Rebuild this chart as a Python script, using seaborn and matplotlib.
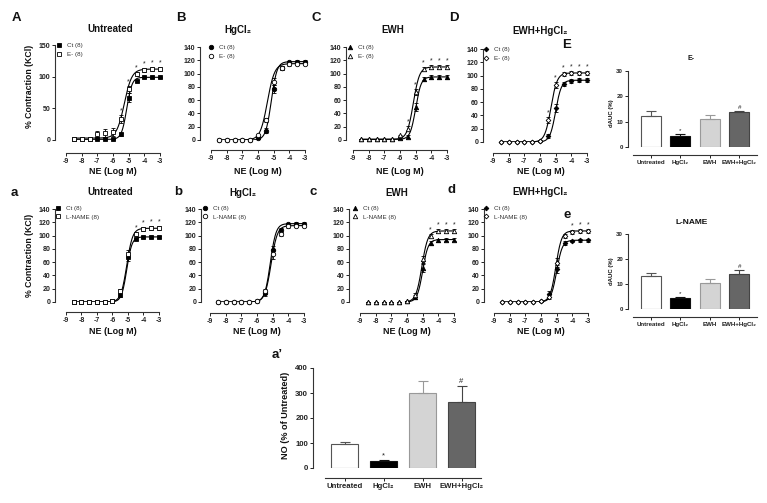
import numpy as np
import matplotlib.pyplot as plt
import seaborn as sns
from matplotlib.lines import Line2D

sns.set_style("ticks")
plt.rcParams['font.family'] = ['Liberation Sans', 'DejaVu Sans']
plt.rcParams['axes.unicode_minus'] = False

# ---- concentration-response data (% contraction to KCl) ----
log_ne = [-8.5, -8, -7.5, -7, -6.5, -6, -5.5, -5, -4.5, -4, -3.5, -3]

A_ct = [1, 1, 1, 1, 1, 1, 9, 67, 93, 99, 99, 99]
A_ct_err = [0, 0, 0, 0, 0, 0, 2, 7, 2, 1, 1, 1]
A_em = [1, 1, 1, 9, 11, 13, 33, 80, 104, 110, 112, 112]
A_em_err = [0, 0, 0, 5, 6, 6, 6, 5, 3, 3, 3, 3]
B_ct = [0, 0, 0, 0, 0, 3, 14, 77, 109, 117, 118, 118]
B_ct_err = [0, 0, 0, 0, 0, 1, 4, 6, 3, 2, 2, 2]
B_em = [0, 0, 0, 0, 0, 7, 30, 88, 108, 114, 115, 115]
B_em_err = [0, 0, 0, 0, 0, 1, 3, 5, 3, 2, 2, 2]
C_ct = [1, 1, 1, 1, 1, 3, 5, 50, 92, 95, 95, 95]
C_ct_err = [0, 0, 0, 0, 0, 1, 2, 6, 3, 3, 3, 3]
C_em = [1, 1, 1, 1, 1, 7, 17, 72, 107, 110, 110, 110]
C_em_err = [0, 0, 0, 0, 0, 1, 4, 5, 3, 3, 3, 3]
D_ct = [0, 0, 0, 0, 0, 1, 9, 51, 88, 92, 93, 93]
D_ct_err = [0, 0, 0, 0, 0, 1, 3, 6, 3, 3, 3, 3]
D_em = [0, 0, 0, 0, 0, 2, 33, 86, 103, 104, 104, 104]
D_em_err = [0, 0, 0, 0, 0, 1, 4, 4, 3, 3, 3, 3]

a_ct = [0, 0, 0, 0, 0, 1, 11, 68, 95, 98, 98, 98]
a_ct_err = [0, 0, 0, 0, 0, 1, 3, 6, 2, 1, 1, 1]
a_ln = [0, 0, 0, 0, 0, 2, 17, 73, 103, 110, 111, 111]
a_ln_err = [0, 0, 0, 0, 0, 1, 3, 5, 3, 3, 3, 3]
b_ct = [0, 0, 0, 0, 0, 1, 13, 78, 109, 117, 118, 118]
b_ct_err = [0, 0, 0, 0, 0, 1, 4, 6, 3, 2, 2, 2]
b_ln = [0, 0, 0, 0, 0, 1, 16, 72, 102, 114, 115, 115]
b_ln_err = [0, 0, 0, 0, 0, 1, 4, 7, 3, 2, 2, 2]
c_ct = [0, 0, 0, 0, 0, 1, 7, 51, 89, 93, 94, 94]
c_ct_err = [0, 0, 0, 0, 0, 1, 3, 6, 3, 2, 2, 2]
c_ln = [0, 0, 0, 0, 0, 1, 11, 64, 99, 107, 107, 107]
c_ln_err = [0, 0, 0, 0, 0, 1, 3, 6, 3, 3, 3, 3]
d_ct = [0, 0, 0, 0, 0, 1, 12, 50, 89, 92, 93, 93]
d_ct_err = [0, 0, 0, 0, 0, 1, 4, 6, 3, 2, 2, 2]
d_ln = [0, 0, 0, 0, 0, 1, 7, 59, 99, 106, 107, 107]
d_ln_err = [0, 0, 0, 0, 0, 1, 3, 7, 3, 3, 3, 3]

# fitted sigmoid parameters: bottom, top, logEC50, Hill slope
A_ct_fit = [1, 99, -5.12, 2.6]
A_em_fit = [3, 112, -5.28, 1.8]
B_ct_fit = [0, 118, -5.15, 2.4]
B_em_fit = [0, 115, -5.40, 1.9]
C_ct_fit = [1, 95, -5.00, 2.5]
C_em_fit = [1, 110, -5.15, 2.2]
D_ct_fit = [0, 93, -5.00, 2.4]
D_em_fit = [0, 104, -5.30, 2.2]
a_ct_fit = [0, 98, -5.08, 2.6]
a_ln_fit = [0, 111, -5.08, 2.3]
b_ct_fit = [0, 118, -5.15, 2.4]
b_ln_fit = [0, 115, -5.10, 2.2]
c_ct_fit = [0, 94, -5.00, 2.5]
c_ln_fit = [0, 107, -5.05, 2.3]
d_ct_fit = [0, 93, -5.00, 2.4]
d_ln_fit = [0, 107, -5.05, 2.4]

# ---- bar data ----
groups = ['Untreated', 'HgCl₂', 'EWH', 'EWH+HgCl₂']
E_dauc = [12.2, 4.5, 11.2, 13.7]
E_err = [1.9, 0.6, 1.6, 0.7]
e_dauc = [13.2, 4.4, 10.3, 14.0]
e_err = [1.1, 0.6, 1.9, 1.6]
no_pct = [98, 27, 300, 265]
no_err = [5, 5, 48, 62]
bar_marks = ['', '*', '', '#']

bar_fill = {'Untreated': 'white', 'HgCl₂': 'black', 'EWH': '#d4d4d4', 'EWH+HgCl₂': '#666666'}
bar_edge = ['#555555', '#111111', '#999999', '#444444']

W, H = 767, 503
fig = plt.figure(figsize=(W / 100, H / 100), dpi=100)


def add_ax(x0, x1, ybot, ytop):
    ax = fig.add_axes([x0 / W, 1 - ybot / H, (x1 - x0) / W, (ybot - ytop) / H])
    ax.set_facecolor('none')
    return ax


def ftext(x, y, s, size, weight='bold', rot=0, color='#111111'):
    fig.text(x / W, 1 - y / H, s, ha='center', va='center', fontsize=size,
             fontweight=weight, rotation=rot, color=color)


def style(ax, left_off, bottom_off, ytop, lsize=5):
    sns.despine(ax=ax)
    ax.spines['left'].set_position(('outward', left_off * 0.72))
    ax.spines['bottom'].set_position(('outward', bottom_off * 0.72))
    ax.spines['left'].set_bounds(0, ytop)
    for s in ('left', 'bottom'):
        ax.spines[s].set_linewidth(0.8)
        ax.spines[s].set_color('#333333')
    ax.tick_params(length=2.5, width=0.7, pad=1, labelsize=lsize, colors='#222222')
    for t in ax.get_xticklabels() + ax.get_yticklabels():
        t.set_fontweight('bold')


def draw_series(ax, y, err, fit, marker, filled, ms, xstart):
    b, t, ec, h = fit
    xs = np.linspace(xstart, -3, 200)
    ys = b + (t - b) / (1 + 10 ** ((ec - xs) * h))
    sns.lineplot(x=xs, y=ys, ax=ax, color='black', lw=0.8)
    ax.errorbar(log_ne, y, yerr=err, fmt=marker, ms=ms,
                mfc='black' if filled else 'white', mec='black', mew=0.6,
                ecolor='black', elinewidth=0.6, capsize=1.2, capthick=0.6,
                clip_on=False, zorder=3)


curve_panels = [
    # rect px, spine offsets, ymax, series, marker, ms, stars, legend anchor, labels
    dict(rect=(66, 160, 140, 45), off=(11, 13), ymax=150, yt=[0, 50, 100, 150],
         ct=(A_ct, A_ct_err, A_ct_fit), tr=(A_em, A_em_err, A_em_fit),
         mk='s', ms=3.4, stars=[6, 7, 8, 9, 10, 11], leg=(56, 42.5), lab='E- (8)', xs=-8.5),
    dict(rect=(211, 305, 140, 47), off=(11, 10), ymax=140, yt=list(range(0, 141, 20)),
         ct=(B_ct, B_ct_err, B_ct_fit), tr=(B_em, B_em_err, B_em_fit),
         mk='o', ms=3.2, stars=[], leg=(208, 44.5), lab='E- (8)', xs=-8.5),
    dict(rect=(353, 447, 140, 47), off=(7, 10), ymax=140, yt=list(range(0, 141, 20)),
         ct=(C_ct, C_ct_err, C_ct_fit), tr=(C_em, C_em_err, C_em_fit),
         mk='^', ms=3.2, stars=[6, 7, 8, 9, 10, 11], leg=(347, 44.5), lab='E- (8)', xs=-8.5),
    dict(rect=(493, 587, 142, 49), off=(10, 11), ymax=140, yt=list(range(0, 141, 20)),
         ct=(D_ct, D_ct_err, D_ct_fit), tr=(D_em, D_em_err, D_em_fit),
         mk='D', ms=2.4, stars=[6, 7, 8, 9, 10, 11], leg=(483, 46.5), lab='E- (8)', xs=-8.5),
    dict(rect=(66, 159, 302, 209), off=(11, 10), ymax=140, yt=list(range(0, 141, 20)),
         ct=(a_ct, a_ct_err, a_ct_fit), tr=(a_ln, a_ln_err, a_ln_fit),
         mk='s', ms=3.4, stars=[8, 9, 10, 11], leg=(55, 205.5), lab='L-NAME (8)', xs=-8.5),
    dict(rect=(210, 304, 302, 209), off=(9, 11), ymax=140, yt=list(range(0, 141, 20)),
         ct=(b_ct, b_ct_err, b_ct_fit), tr=(b_ln, b_ln_err, b_ln_fit),
         mk='o', ms=3.2, stars=[], leg=(202, 205.5), lab='L-NAME (8)', xs=-8.5),
    dict(rect=(360, 454, 302, 209), off=(11, 11), ymax=140, yt=list(range(0, 141, 20)),
         ct=(c_ct, c_ct_err, c_ct_fit), tr=(c_ln, c_ln_err, c_ln_fit),
         mk='^', ms=3.2, stars=[8, 9, 10, 11], leg=(352, 205.5), lab='L-NAME (8)', xs=-6.1),
    dict(rect=(494, 588, 302, 209), off=(10, 11), ymax=140, yt=list(range(0, 141, 20)),
         ct=(d_ct, d_ct_err, d_ct_fit), tr=(d_ln, d_ln_err, d_ln_fit),
         mk='D', ms=2.4, stars=[9, 10, 11], leg=(483, 205.5), lab='L-NAME (8)', xs=-8.5),
]

for p in curve_panels:
    x0, x1, yb, yt = p['rect']
    ax = add_ax(x0, x1, yb, yt)
    draw_series(ax, *p['ct'], p['mk'], True, p['ms'], p['xs'])
    draw_series(ax, *p['tr'], p['mk'], False, p['ms'], p['xs'])
    ty, terr, _ = p['tr']
    for i in p['stars']:
        ax.text(log_ne[i], ty[i] + terr[i] + 1, '*', ha='center', va='bottom',
                fontsize=5, color='#222222')
    ax.set_xlim(-9, -3)
    ax.set_ylim(0, p['ymax'])
    ax.set_xticks(range(-9, -2))
    ax.set_yticks(p['yt'])
    ax.set_xlabel('')
    ax.set_ylabel('')
    style(ax, p['off'][0], p['off'][1], p['ymax'])
    handles = [Line2D([], [], ls='none', marker=p['mk'], ms=p['ms'], mfc='black', mec='black', mew=0.6),
               Line2D([], [], ls='none', marker=p['mk'], ms=p['ms'], mfc='white', mec='black', mew=0.6)]
    fig.legend(handles, ['Ct (8)', p['lab']], loc='upper left',
               bbox_to_anchor=(p['leg'][0] / W, 1 - p['leg'][1] / H),
               frameon=False, fontsize=4.5, handlelength=1.0, handletextpad=0.8,
               labelspacing=0.55, borderpad=0, borderaxespad=0, labelcolor='#333333')


def bar_panel(rect, off, vals, errs, ymax, yticks, width, lsize, tsize):
    x0, x1, yb, yt = rect
    ax = add_ax(x0, x1, yb, yt)
    sns.barplot(x=groups, y=vals, hue=groups, palette=bar_fill, legend=False,
                width=width, saturation=1, errorbar=None, linewidth=0.8, ax=ax)
    for patch, ec in zip(ax.patches, bar_edge):
        patch.set_edgecolor(ec)
    for i in range(4):
        ax.errorbar(i, vals[i], yerr=[[0], [errs[i]]], fmt='none', ecolor=bar_edge[i],
                    elinewidth=0.8, capsize=width * 5, capthick=0.8, zorder=1)
        if bar_marks[i]:
            ax.text(i, vals[i] + errs[i] + ymax * 0.01, bar_marks[i], ha='center',
                    va='bottom', fontsize=tsize, color='#222222')
    ax.set_xlim(*((-0.6, 3.6) if ymax == 30 else (-0.5, 3.5)))
    ax.set_ylim(0, ymax)
    ax.set_yticks(yticks)
    ax.set_xticks(range(4))
    ax.set_xticklabels(groups)
    ax.set_xlabel('')
    ax.set_ylabel('')
    style(ax, off[0], off[1], ymax, lsize)
    return ax


bar_panel((633, 757, 147, 71), (5, 8), E_dauc, E_err, 30, [0, 10, 20, 30], 0.68, 4.4, 4.5)
bar_panel((633, 757, 309, 234), (5, 8), e_dauc, e_err, 30, [0, 10, 20, 30], 0.68, 4.4, 4.5)
bar_panel((325, 481, 468, 368), (12, 10), no_pct, no_err, 400, [0, 100, 200, 300, 400], 0.67, 5.6, 5.5)

# ---- panel letters ----
for s, x, y in [('A', 16, 18), ('B', 181, 18), ('C', 316, 18), ('D', 454, 18), ('E', 567, 45),
                ('a', 14, 193), ('b', 178, 192), ('c', 313, 192), ('d', 452, 190), ('e', 567, 215),
                ("a’", 277, 355)]:
    ftext(x, y, s, 9.5)

# ---- titles ----
for s, x, y in [('Untreated', 110, 29), ('HgCl₂', 238, 30), ('EWH', 393, 30), ('EWH+HgCl₂', 540, 31),
                ('Untreated', 110, 192), ('HgCl₂', 243, 193), ('EWH', 397, 193),
                ('EWH+HgCl₂', 540, 192)]:
    ftext(x, y, s, 7)
ftext(691, 58, 'E-', 5)
ftext(692, 222, 'L-NAME', 6)

# ---- axis labels ----
for x in (113, 258, 400, 541):
    ftext(x, 171, 'NE (Log M)', 6.5)
for x in (113, 257, 407, 541):
    ftext(x, 332, 'NE (Log M)', 6.5)
ftext(30, 86, '% Contraction (KCl)', 6.3, rot=90)
ftext(30, 255, '% Contraction (KCl)', 6.3, rot=90)
ftext(612, 113, 'dAUC (%)', 4.3, rot=90)
ftext(612, 271, 'dAUC (%)', 4.3, rot=90)
ftext(285, 415, 'NO (% of Untreated)', 6.6, rot=90)

fig.savefig('out.png', dpi=100)
plt.close(fig)
